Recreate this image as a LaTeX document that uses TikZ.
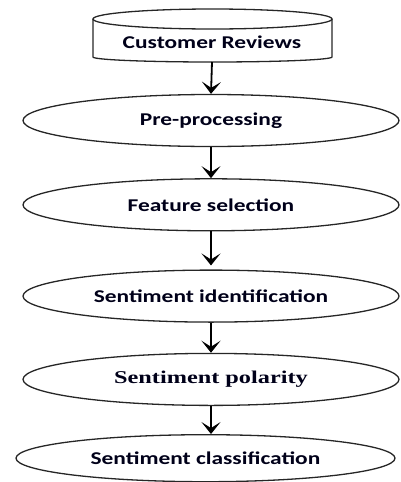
\documentclass[tikz,border=0pt]{standalone}
\usepackage{fontspec}
\setmainfont{Carlito}[FakeStretch=1.3]
\newfontfamily\serifstage{Liberation Serif}[FakeStretch=1.35]
\usetikzlibrary{shapes.geometric,positioning,arrows.meta}

\begin{document}
\begin{tikzpicture}[
x=1pt,y=1pt,
stage/.style={
  draw=black!85,
  line width=1.3pt,
  ellipse,
  minimum width=376pt,
  minimum height=52pt,
  inner sep=0pt,
  font=\fontsize{18}{20}\selectfont\bfseries,
  text=black!90!blue
  },
step line/.style={
  line width=1.8pt,
  ->
  },
>={Stealth[length=12pt,width=19pt,inset=6pt]}
]
\useasboundingbox (0,0) rectangle (400,-482);
% the database can
\draw[draw=black!85,line width=1.3pt] (212.5,-19) ellipse [x radius=119.5,y radius=10];
\draw[draw=black!85,line width=1.3pt] (93,-19) -- (93,-57)
  arc[start angle=180,end angle=360,x radius=119.5,y radius=5] -- (332,-19);
\node[font=\fontsize{18}{20}\selectfont\bfseries,text=black!90!blue] (reviews) at (212,-42) {Customer Reviews};
\coordinate (can) at (212,-62);
% the stages
\node[stage] (prep) at (211,-120.5) {Pre-processing};
\node[stage,below=31pt of prep] (feat) {Feature selection};
\node[stage,below=38pt of feat] (ident) {Sentiment identification};
\node[stage,below=30pt of ident,font=\fontsize{18}{20}\serifstage\bfseries] (polar) {Sentiment polarity};
\node[stage,below=28pt of polar,minimum width=379pt,minimum height=47pt,xshift=-5.5pt] (class) {Sentiment classification};
\draw[step line] (can) -- (prep.north);
\draw[step line] (prep.south) -- (feat.north);
\draw[step line] (feat.south) -- ([yshift=4pt]ident.north);
\draw[step line] (ident.south) -- (polar.north);
\draw[step line] (polar.south) -- ([xshift=5.5pt]class.north);
\end{tikzpicture}
\end{document}
